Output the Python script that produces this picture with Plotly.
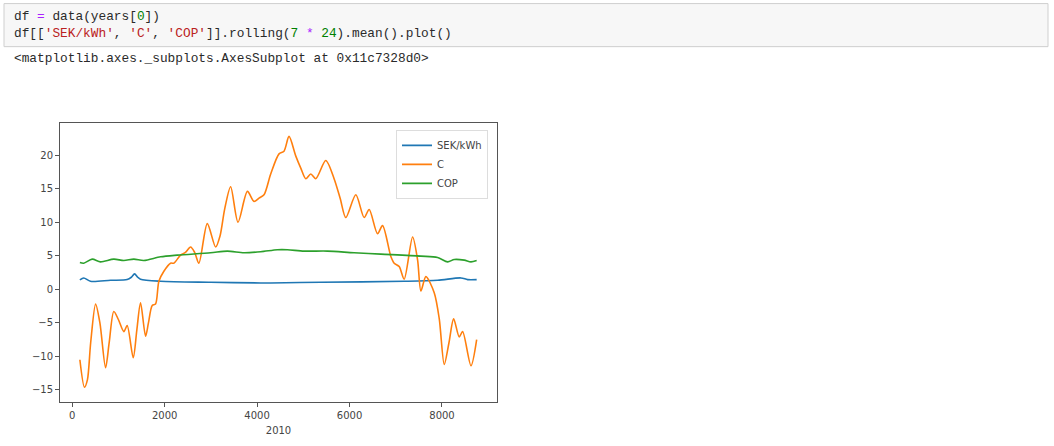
import plotly.graph_objects as go

# ---- data ----
c_x = [167, 266, 330, 400, 507, 600, 723, 800, 901, 1000, 1118, 1190, 1321, 1400, 1479, 1588, 1650,
       1732, 1804, 1876, 1984, 2129, 2200, 2345, 2450, 2562, 2650, 2742, 2923, 3104, 3200, 3300, 3428,
       3587, 3791, 3934, 4042, 4150, 4295, 4475, 4583, 4691, 4836, 4950, 5053, 5162, 5270, 5486, 5666,
       5800, 5919, 6136, 6316, 6425, 6605, 6714, 6894, 6966, 7074, 7182, 7364, 7472, 7544, 7652, 7832,
       7941, 8049, 8150, 8252, 8373, 8446, 8627, 8750]
c_y = [-10.5, -14.6, -13.5, -8.0, -2.2, -5.0, -11.7, -8.0, -3.3, -4.5, -6.3, -5.4, -10.2, -6.0, -2.0,
       -7.0, -5.0, -2.4, -2.2, 1.2, 2.7, 3.9, 3.9, 5.1, 5.5, 6.3, 5.5, 3.9, 9.8, 6.3, 8.0, 12.0, 15.3,
       10.0, 14.6, 13.1, 13.6, 14.1, 17.2, 20.2, 20.6, 22.8, 19.9, 18.0, 16.5, 17.2, 16.5, 19.2, 16.5,
       13.5, 10.7, 14.1, 10.7, 11.9, 8.3, 9.5, 4.9, 3.9, 3.4, 1.5, 7.8, 4.4, -0.25, 1.9, -0.5,
       -4.4, -11.2, -8.0, -4.4, -7.1, -6.3, -11.4, -7.5]

sek_x = [167, 251, 396, 830, 1190, 1280, 1349, 1420, 1479, 1912, 2995, 4079, 4295, 5378, 7182, 7905, 8410, 8555, 8750]
sek_y = [1.4, 1.7, 1.2, 1.35, 1.45, 1.8, 2.3, 1.8, 1.5, 1.2, 1.05, 0.95, 0.95, 1.05, 1.2, 1.35, 1.7, 1.45, 1.45]

cop_x = [167, 251, 433, 613, 901, 1118, 1334, 1551, 1912, 2273, 2995, 3356, 3717, 4079, 4440, 4657, 5017,
         5522, 6099, 6677, 7544, 7905, 8122, 8266, 8482, 8627, 8750]
cop_y = [4.0, 3.9, 4.5, 4.1, 4.5, 4.3, 4.5, 4.3, 4.85, 5.1, 5.45, 5.7, 5.45, 5.6, 5.9, 5.9, 5.7,
         5.7, 5.45, 5.25, 4.95, 4.75, 4.1, 4.45, 4.35, 4.1, 4.3]

x_ticks = [0, 2000, 4000, 6000, 8000]
y_ticks = [-15, -10, -5, 0, 5, 10, 15, 20]
x_label = "2010"

# ---- layout geometry (pixels) ----
W, H = 1054, 446
L, R, T, B = 60, 497, 123, 408


def px(xp):
    return (xp - L) / (R - L)


def py(yp):
    return (B - yp) / (B - T)


fig = go.Figure()
fig.add_trace(go.Scatter(x=sek_x, y=sek_y, name="SEK/kWh", mode="lines",
                         line=dict(color="#1f77b4", width=1.6, shape="spline", smoothing=0.8)))
fig.add_trace(go.Scatter(x=c_x, y=c_y, name="C", mode="lines",
                         line=dict(color="#ff7f0e", width=1.6, shape="spline", smoothing=0.8)))
fig.add_trace(go.Scatter(x=cop_x, y=cop_y, name="COP", mode="lines",
                         line=dict(color="#2ca02c", width=1.6, shape="spline", smoothing=0.8)))

axis_common = dict(showgrid=False, zeroline=False, showline=True, linecolor="#555", linewidth=1,
                   mirror=True, ticks="outside", ticklen=4, tickcolor="#555",
                   tickfont=dict(family="DejaVu Sans", size=10, color="#444"))

fig.update_layout(
    width=W, height=H,
    margin=dict(l=L, r=W - R, t=T, b=H - B),
    paper_bgcolor="white", plot_bgcolor="white",
    showlegend=True,
    legend=dict(x=px(488), y=py(130), xanchor="right", yanchor="top",
                bgcolor="rgba(255,255,255,0.8)", bordercolor="#ddd", borderwidth=1,
                font=dict(family="DejaVu Sans", size=10, color="#444"),
                tracegroupgap=0, itemwidth=30),
    xaxis=dict(range=[-263, 9190], tickvals=x_ticks,
               title=dict(text=x_label, font=dict(family="DejaVu Sans", size=10, color="#444"), standoff=6),
               **axis_common),
    yaxis=dict(range=[-16.8, 24.8], tickvals=y_ticks, **axis_common),
)

# code cell background
fig.add_shape(type="rect", xref="paper", yref="paper",
              x0=px(4), x1=px(1048), y0=py(45), y1=py(1),
              fillcolor="#f7f7f7", line=dict(color="#cfcfcf", width=1), layer="below")

mono = dict(family="Liberation Mono, Courier New, monospace", size=12.8, color="#2a2a2a")
code1 = 'df <span style="color:#AA22FF">=</span> data(years[<span style="color:#008000">0</span>])'
code2 = ('df[[<span style="color:#BA2121">\'SEK/kWh\'</span>, <span style="color:#BA2121">\'C\'</span>, '
         '<span style="color:#BA2121">\'COP\'</span>]].rolling(<span style="color:#008000">7</span> '
         '<span style="color:#AA22FF">*</span> <span style="color:#008000">24</span>).mean().plot()')
out = '&lt;matplotlib.axes._subplots.AxesSubplot at 0x11c7328d0&gt;'

for txt, yc in [(code1, 14.5), (code2, 31.5), (out, 57.5)]:
    fig.add_annotation(text=txt, xref="paper", yref="paper", x=px(12), y=py(yc),
                       xanchor="left", yanchor="middle", showarrow=False, font=mono)

fig.write_html("out.html", config={"displayModeBar": False},
               post_script="document.body.style.margin='0px';")
